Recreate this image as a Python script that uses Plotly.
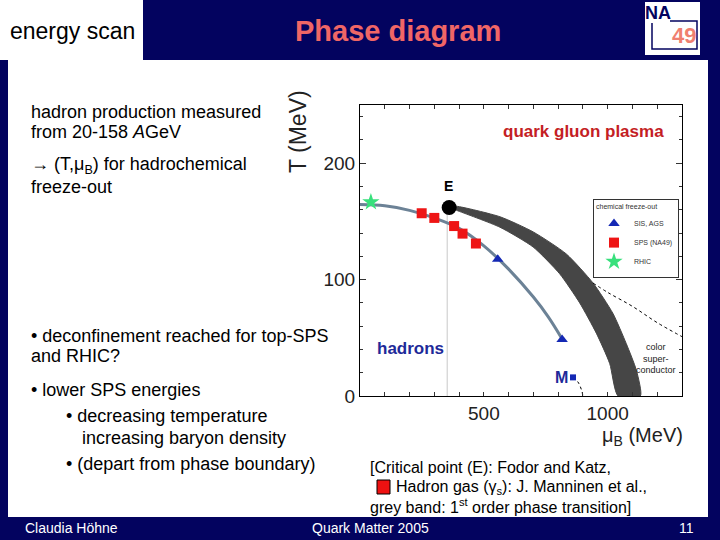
import plotly.graph_objects as go

W, H = 720, 540
def px(x): return x / W
def py(y): return 1 - y / H

# ---------------- data ----------------
# freeze-out curve (mu_B, T)
curve_mu = [0, 100, 200, 300, 400, 500, 600, 700, 760, 816]
curve_T = [164.5, 163.5, 159.5, 153, 144, 129, 109, 85, 68, 49]
# SPS (NA49) points
sps_mu = [249, 300, 380, 414, 468]
sps_T = [157, 153, 146, 139.5, 131]
# SIS, AGS points
sis_mu = [556, 816]
sis_T = [117.4, 48.6]
# RHIC point
rhic_mu = [44]
rhic_T = [166.6]
# critical point E
e_mu = [360]
e_T = [162]
# first-order band edges
band_up_mu = [372, 390, 565, 699, 833, 941, 1021, 1075, 1116, 1132]
band_up_T = [162.5, 163, 154, 141, 122, 97, 71, 45, 22, 0]
band_lo_mu = [1042, 1008, 954, 887, 806, 699, 565, 390, 372]
band_lo_T = [0, 28, 54, 80, 105, 128, 145, 159.5, 161]
# dotted line (color superconductor boundary)
dot_mu = [941, 1000, 1100, 1200, 1300]
dot_T = [97, 89, 77, 63, 51]
# M point and its dotted line
m_mu = [860]
m_T = [16]
mdot_mu = [860, 880, 893, 900]
mdot_T = [16, 12, 6, 0]
# vertical line at E
vline_mu = [352, 352]
vline_T = [0, 160]

x_ticks = [500, 1000]
y_ticks = [0, 100, 200]

NAVY = '#03035f'
fig = go.Figure()

fig.add_trace(go.Scatter(x=vline_mu, y=vline_T, mode='lines',
                         line=dict(color='#c8c8c8', width=1), showlegend=False, hoverinfo='skip'))
fig.add_trace(go.Scatter(x=band_up_mu + band_lo_mu, y=band_up_T + band_lo_T, mode='lines',
                         fill='toself', fillcolor='#464646', line=dict(color='#464646', width=1, shape='spline', smoothing=0.6),
                         showlegend=False, hoverinfo='skip'))
fig.add_trace(go.Scatter(x=dot_mu, y=dot_T, mode='lines',
                         line=dict(color='black', width=1, dash='dot', shape='spline'), showlegend=False))
fig.add_trace(go.Scatter(x=mdot_mu, y=mdot_T, mode='lines',
                         line=dict(color='black', width=1, dash='dot', shape='spline'), showlegend=False))
fig.add_trace(go.Scatter(x=curve_mu, y=curve_T, mode='lines',
                         line=dict(color='#6c8296', width=3, shape='spline'), showlegend=False))
fig.add_trace(go.Scatter(x=sis_mu, y=sis_T, mode='markers', name='SIS, AGS',
                         marker=dict(symbol='triangle-up', size=10, color='#1428b4')))
fig.add_trace(go.Scatter(x=sps_mu, y=sps_T, mode='markers', name='SPS (NA49)',
                         marker=dict(symbol='square', size=10, color='#ee1515')))
fig.add_trace(go.Scatter(x=rhic_mu, y=rhic_T, mode='markers', name='RHIC',
                         marker=dict(symbol='star', size=13, color='#38e07c')))
fig.add_trace(go.Scatter(x=e_mu, y=e_T, mode='markers',
                         marker=dict(size=15, color='black'), showlegend=False))
fig.add_trace(go.Scatter(x=m_mu, y=m_T, mode='markers',
                         marker=dict(size=6, color='#1428b4', symbol='square'), showlegend=False))

shapes = [
    dict(type='rect', xref='paper', yref='paper', x0=px(0), x1=px(143), y0=py(60), y1=py(0),
         fillcolor='white', line=dict(width=0), layer='below'),
    dict(type='rect', xref='paper', yref='paper', x0=px(8), x1=px(708), y0=py(517), y1=py(60),
         fillcolor='white', line=dict(width=0), layer='below'),
    # NA49 logo
    dict(type='rect', xref='paper', yref='paper', x0=px(645), x1=px(700), y0=py(55), y1=py(2),
         fillcolor='white', line=dict(width=0)),
    dict(type='path', xref='paper', yref='paper',
         path=f'M {px(670)},{py(21)} L {px(697)},{py(21)} L {px(697)},{py(49)} L {px(652)},{py(49)} L {px(652)},{py(23)}',
         line=dict(color=NAVY, width=1.5)),
    # small red square in reference text
    dict(type='rect', xref='paper', yref='paper', x0=px(377), x1=px(390), y0=py(494), y1=py(480),
         fillcolor='#ee1111', line=dict(color='black', width=1)),
]

ann = []
def A(x, y, text, size=18, color='black', xanchor='left', family='Liberation Sans, Arial, sans-serif', **kw):
    if xanchor == 'left':
        x -= 2
    ann.append(dict(x=px(x), y=py(y), xref='paper', yref='paper', text=text, showarrow=False,
                    xanchor=xanchor, yanchor='middle', font=dict(size=size, color=color, family=family), **kw))

NARROW = 'Liberation Sans Narrow, Arial Narrow, Liberation Sans, sans-serif'

A(72, 31, 'energy scan', size=23, xanchor='center')
A(398, 31, '<b>Phase diagram</b>', size=29, color='#f06666', xanchor='center')
A(658, 13, '<b>NA</b>', size=18, color=NAVY, xanchor='center', family=NARROW)
A(684, 36, '<b>49</b>', size=22, color='#f08070', xanchor='center', family=NARROW)

A(31, 112, 'hadron production measured')
A(31, 132, 'from 20-158 <i>A</i>GeV')
A(31, 166, '→ (T,μ<sub>B</sub>) for hadrochemical')
A(31, 187, 'freeze-out')
A(31, 336, '• deconfinement reached for top-SPS')
A(31, 356, 'and RHIC?')
A(31, 390, '• lower SPS energies')
A(66, 416, '• decreasing temperature')
A(82, 438, 'increasing baryon density')
A(66, 464, '• (depart from phase boundary)')

A(370, 467, '[Critical point (E): Fodor and Katz,', size=16, family=NARROW)
A(396, 487, 'Hadron gas (γ<sub>s</sub>): J. Manninen et al.,', size=16, family=NARROW)
A(370, 506, 'grey band: 1<sup>st</sup> order phase transition]', size=16, family=NARROW)

A(25, 528, 'Claudia Höhne', size=14, color='white', family=NARROW)
A(371, 528, 'Quark Matter 2005', size=14, color='white', xanchor='center', family=NARROW)
A(686, 528, '11', size=14, color='white', xanchor='center', family=NARROW)

A(298, 132, 'T (MeV)', size=23, color='#222', xanchor='center', textangle=-90)
A(642, 436, 'μ<sub>B</sub> (MeV)', size=20, color='#222', xanchor='center')

def D(x, y, text, size=15, color='black'):
    ann.append(dict(x=x, y=y, xref='x', yref='y', text=text, showarrow=False,
                    font=dict(size=size, color=color, family='Liberation Sans, Arial, sans-serif')))

D(901, 227, '<b>quark gluon plasma</b>', size=17, color='#c41e24')
D(202, 41, '<b>hadrons</b>', size=17, color='#1e2a99')
D(813, 16, '<b>M</b>', size=16, color='#1e2a99')
D(358, 180, '<b>E</b>', size=14)
D(1196, 32, 'color<br>super-<br>conductor', size=9, color='#222')

fig.update_layout(
    width=W, height=H, margin=dict(l=0, r=0, t=0, b=0, autoexpand=False),
    paper_bgcolor=NAVY, plot_bgcolor='white',
    shapes=shapes, annotations=ann,
    font=dict(family='Liberation Sans, Arial, sans-serif'),
    xaxis=dict(domain=[px(360), px(682)], range=[0, 1300], tickmode='array', tickvals=x_ticks,
               ticks='inside', ticklen=4, tickcolor='#333', mirror='allticks', showline=True,
               linecolor='black', linewidth=1, showgrid=False, zeroline=False, automargin=False,
               tickfont=dict(size=19, color='#222'),
               minor=dict(dtick=100, tick0=0, ticks='inside', ticklen=4, tickcolor='#333')),
    yaxis=dict(domain=[py(396), py(105)], range=[0, 250], tickmode='array', tickvals=y_ticks,
               ticks='inside', ticklen=6, tickcolor='#333', mirror='allticks', showline=True,
               linecolor='black', linewidth=1, showgrid=False, zeroline=False, automargin=False,
               tickfont=dict(size=19, color='#222'),
               minor=dict(dtick=20, tick0=0, ticks='inside', ticklen=3, tickcolor='#333')),
    legend=dict(x=px(593), y=py(199), xanchor='left', yanchor='top', bgcolor='white',
                bordercolor='#333', borderwidth=1, font=dict(size=7, color='#333'),
                title=dict(text='chemical freeze-out', font=dict(size=7, color='#333')),
                itemwidth=30, tracegroupgap=0),
)

post = """
document.documentElement.style.margin='0';
document.documentElement.style.overflow='hidden';
document.body.style.margin='0';
document.body.style.overflow='hidden';
"""
fig.write_html('out.html', post_script=post, config={'displayModeBar': False})
